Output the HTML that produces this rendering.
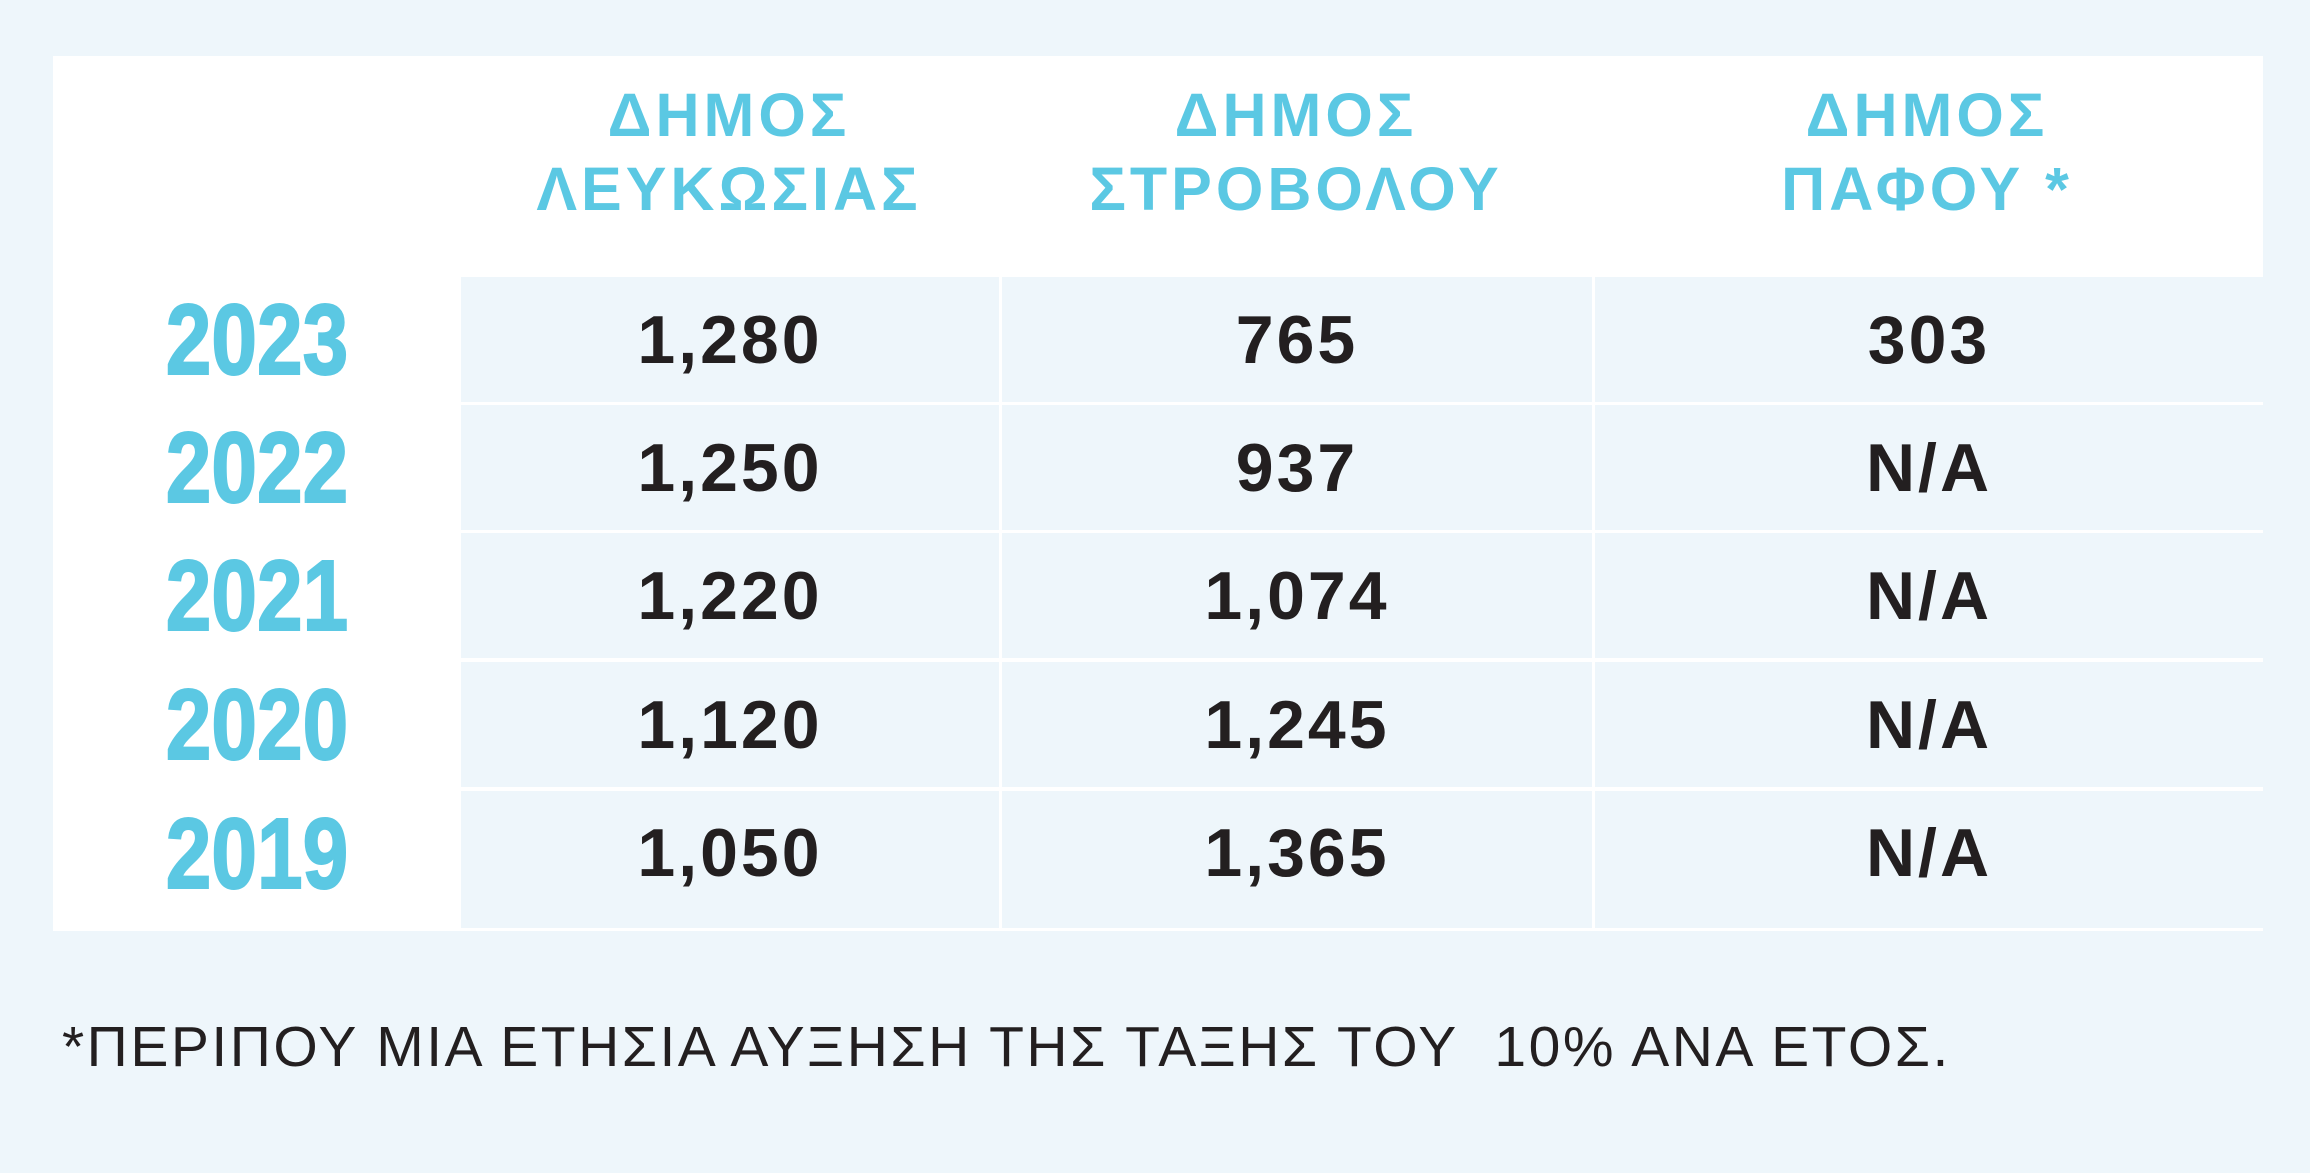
<!DOCTYPE html>
<html><head><meta charset="utf-8"><style>
html,body{margin:0;padding:0}
body{width:2310px;height:1173px;background:#eef6fb;position:relative;overflow:hidden;font-family:"Liberation Sans",sans-serif}
.box{position:absolute;left:53px;top:56px;width:2210px;height:875px;background:#fff}
.cell{position:absolute;background:#eef6fb;display:flex;align-items:center;justify-content:center;font-weight:bold;font-size:68px;color:#231f20;letter-spacing:3px;box-sizing:border-box}
.hd{position:absolute;top:78px;width:600px;text-align:center;color:#5bc8e3;font-weight:bold;font-size:61px;line-height:74px;letter-spacing:4px}
.yr{position:absolute;left:57px;width:400px;text-align:center;font-weight:bold;font-size:100px;color:#5bc8e3;line-height:120px;transform:scaleX(0.82);-webkit-text-stroke:2px #5bc8e3}
.fn{position:absolute;left:62px;top:1012px;font-size:57px;color:#231f20;white-space:nowrap;line-height:70px;letter-spacing:2.5px}
</style></head><body>
<div class="box"></div>
<div class="hd" style="left:429px">ΔΗΜΟΣ<br>ΛΕΥΚΩΣΙΑΣ</div>
<div class="hd" style="left:996px">ΔΗΜΟΣ<br>ΣΤΡΟΒΟΛΟΥ</div>
<div class="hd" style="left:1627px">ΔΗΜΟΣ<br>ΠΑΦΟΥ *</div>

<div class="yr" style="top:280px">2023</div>
<div class="yr" style="top:408px">2022</div>
<div class="yr" style="top:536px">2021</div>
<div class="yr" style="top:665px">2020</div>
<div class="yr" style="top:794px">2019</div>

<div class="cell" style="left:461px;top:277px;width:538px;height:125px">1,280</div>
<div class="cell" style="left:1002px;top:277px;width:590px;height:125px">765</div>
<div class="cell" style="left:1595px;top:277px;width:668px;height:125px">303</div>

<div class="cell" style="left:461px;top:405px;width:538px;height:125px">1,250</div>
<div class="cell" style="left:1002px;top:405px;width:590px;height:125px">937</div>
<div class="cell" style="left:1595px;top:405px;width:668px;height:125px">N/A</div>

<div class="cell" style="left:461px;top:533px;width:538px;height:125px">1,220</div>
<div class="cell" style="left:1002px;top:533px;width:590px;height:125px">1,074</div>
<div class="cell" style="left:1595px;top:533px;width:668px;height:125px">N/A</div>

<div class="cell" style="left:461px;top:662px;width:538px;height:125px">1,120</div>
<div class="cell" style="left:1002px;top:662px;width:590px;height:125px">1,245</div>
<div class="cell" style="left:1595px;top:662px;width:668px;height:125px">N/A</div>

<div class="cell" style="left:461px;top:791px;width:538px;height:137px;padding-bottom:14px">1,050</div>
<div class="cell" style="left:1002px;top:791px;width:590px;height:137px;padding-bottom:14px">1,365</div>
<div class="cell" style="left:1595px;top:791px;width:668px;height:137px;padding-bottom:14px">N/A</div>

<div class="fn">*ΠΕΡΙΠΟΥ ΜΙΑ ΕΤΗΣΙΑ ΑΥΞΗΣΗ ΤΗΣ ΤΑΞΗΣ ΤΟΥ &nbsp;10% ΑΝΑ ΕΤΟΣ.</div>
</body></html>
